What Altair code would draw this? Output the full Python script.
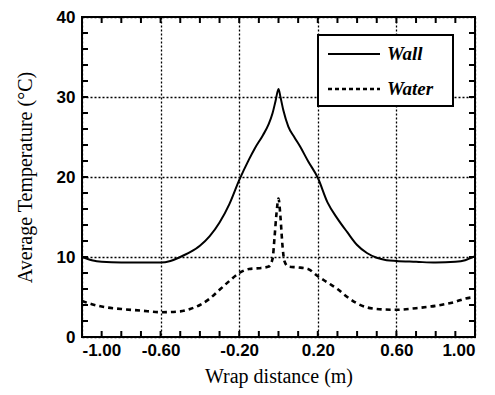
import altair as alt
import pandas as pd

# ---- data ----
series_names = ["Wall", "Water"]

wall_x = [-1.0, -0.95, -0.9, -0.8, -0.7, -0.6, -0.55, -0.5, -0.45, -0.4, -0.35, -0.3, -0.25,
          -0.2, -0.15, -0.12, -0.08, -0.05, -0.03, -0.015, 0.0, 0.01, 0.025, 0.05, 0.08,
          0.11, 0.15, 0.2, 0.25, 0.3, 0.35, 0.4, 0.45, 0.5, 0.55, 0.6, 0.7, 0.8, 0.9, 0.95, 1.0]
wall_y = [10.0, 9.6, 9.4, 9.3, 9.3, 9.3, 9.5, 10.0, 10.6, 11.4, 12.6, 14.3, 16.6,
          19.6, 22.2, 23.6, 25.2, 26.6, 28.0, 29.5, 31.0, 30.0, 28.3, 26.3, 25.0,
          23.8, 22.0, 19.9, 16.8, 14.8, 13.1, 11.5, 10.5, 9.9, 9.6, 9.5, 9.4, 9.3, 9.4, 9.6, 10.1]

water_x = [-1.0, -0.95, -0.9, -0.8, -0.7, -0.6, -0.5, -0.45, -0.4, -0.35, -0.3, -0.25, -0.2,
           -0.15, -0.1, -0.05, -0.03, -0.02, -0.01, 0.0, 0.01, 0.02, 0.03, 0.05, 0.1, 0.15,
           0.2, 0.25, 0.3, 0.35, 0.4, 0.45, 0.5, 0.6, 0.7, 0.8, 0.9, 0.95, 1.0]
water_y = [4.5, 4.1, 3.8, 3.5, 3.3, 3.1, 3.2, 3.5, 4.0, 4.8, 5.9, 7.0, 8.0,
           8.5, 8.6, 8.8, 9.8, 12.5, 15.5, 17.3, 15.0, 11.5, 9.5, 8.8, 8.7, 8.5,
           7.6, 6.8, 6.0, 5.0, 4.2, 3.7, 3.5, 3.4, 3.6, 3.9, 4.4, 4.8, 5.0]

x_label_values = [-1.0, -0.6, -0.2, 0.2, 0.6, 1.0]
y_label_values = [0, 10, 20, 30, 40]
x_minor_ticks = [-0.9, -0.8, -0.7, -0.6, -0.5, -0.4, -0.3, -0.2, -0.1, 0.0,
                 0.1, 0.2, 0.3, 0.4, 0.5, 0.6, 0.7, 0.8, 0.9]
y_minor_ticks = [2, 4, 6, 8, 10, 12, 14, 16, 18, 20, 22, 24, 26, 28, 30, 32, 34, 36, 38]

W, H = 393, 320

df_wall = pd.DataFrame({"x": wall_x, "y": wall_y})
df_water = pd.DataFrame({"x": water_x, "y": water_y})
df_xt = pd.DataFrame({"x": x_minor_ticks})
df_yt = pd.DataFrame({"y": y_minor_ticks})
one = pd.DataFrame({"a": [0]})

xscale = alt.Scale(domain=[-1, 1], nice=False, zero=False)
yscale = alt.Scale(domain=[0, 40], nice=False, zero=False)

xaxis = alt.Axis(values=x_label_values,
                 labelExpr="replace(format(datum.value, '.2f'), '\u2212', '-')",
                 title="Wrap distance (m)", grid=True, labelPadding=5, titlePadding=8)
yaxis = alt.Axis(values=y_label_values, format="d",
                 title="Average Temperature (°C)", grid=True, labelPadding=7, titlePadding=21)

X = alt.X("x:Q", scale=xscale, axis=xaxis)
Y = alt.Y("y:Q", scale=yscale, axis=yaxis)

wall = alt.Chart(df_wall).mark_line(color="black", strokeWidth=2, interpolate="monotone").encode(x=X, y=Y)
water = alt.Chart(df_water).mark_line(color="black", strokeWidth=2.6, strokeDash=[5, 4],
                                      interpolate="monotone").encode(x=X, y=Y)

tick_style = dict(color="black", strokeWidth=2)
bottom_ticks = alt.Chart(df_xt).mark_rule(**tick_style).encode(x=X, y=alt.value(H), y2=alt.value(H - 6))
top_ticks = alt.Chart(df_xt).mark_rule(**tick_style).encode(x=X, y=alt.value(0), y2=alt.value(6))
left_ticks = alt.Chart(df_yt).mark_rule(**tick_style).encode(y=Y, x=alt.value(0), x2=alt.value(6))
right_ticks = alt.Chart(df_yt).mark_rule(**tick_style).encode(y=Y, x=alt.value(W), x2=alt.value(W - 6))

# legend box
box = alt.Chart(one).mark_rect(fill="white", stroke="black", strokeWidth=2).encode(
    x=alt.value(236), x2=alt.value(371), y=alt.value(18), y2=alt.value(89))
leg_wall = alt.Chart(one).mark_rule(color="black", strokeWidth=2).encode(
    x=alt.value(246), x2=alt.value(298), y=alt.value(37))
leg_water = alt.Chart(one).mark_rule(color="black", strokeWidth=2.6, strokeDash=[4, 3]).encode(
    x=alt.value(246), x2=alt.value(298), y=alt.value(72))
txt_style = dict(align="left", baseline="middle", font="Liberation Serif", fontStyle="italic",
                 fontWeight="bold", fontSize=19, color="black")
leg_t1 = alt.Chart(one).mark_text(**txt_style).encode(
    x=alt.value(305), y=alt.value(37), text=alt.value(series_names[0]))
leg_t2 = alt.Chart(one).mark_text(**txt_style).encode(
    x=alt.value(305), y=alt.value(72), text=alt.value(series_names[1]))

chart = alt.layer(
    water, wall, bottom_ticks, top_ticks, left_ticks, right_ticks,
    box, leg_wall, leg_water, leg_t1, leg_t2
).properties(
    width=W, height=H,
    padding={"left": 7, "top": 0, "right": 0, "bottom": 2},
).configure_view(
    stroke="black", strokeWidth=2
).configure_axis(
    domain=False, ticks=False, tickSize=0,
    grid=True, gridColor="black", gridDash=[2, 2], gridWidth=1.3,
    labelFont="Liberation Sans", labelFontWeight="bold", labelFontSize=17, labelColor="black",
    titleFont="Liberation Serif", titleFontWeight="normal", titleFontSize=20, titleColor="black",
)

chart.save("out.html", embed_options={"renderer": "svg", "actions": False})
